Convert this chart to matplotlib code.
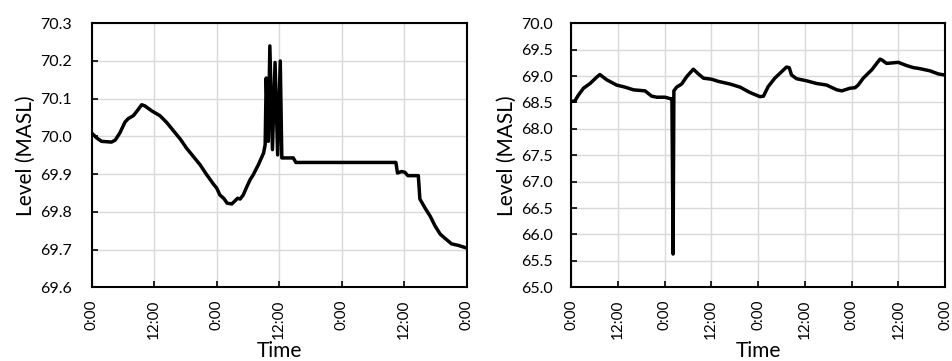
import matplotlib
matplotlib.use("Agg")
import matplotlib.pyplot as plt
import numpy as np

plt.rcParams['font.family'] = ['Lato', 'DejaVu Sans']

# Left panel: hours since start, level (MASL)
left_hours = [0.0, 0.96, 1.9, 3.8, 4.5, 5.4, 6.4, 7.0, 8.0, 8.8, 9.6, 10.2, 11.5, 13.1,
              14.4, 15.7, 17.0, 18.2, 19.5, 20.8, 22.1, 23.4, 24.0, 24.6, 25.4, 26.0,
              26.9, 27.5, 28.0, 28.5, 29.1, 29.8, 30.4, 31.0, 32.0, 33.0, 33.3,
              33.5, 33.9, 34.2, 34.7, 35.2, 35.7, 36.2, 36.5,
              38.7, 39.2, 58.4, 58.7, 59.5, 60.1, 60.7, 62.7, 63.0, 64.0, 65.0,
              65.9, 66.9, 67.8, 69.1, 70.4, 72.0]
left_level = [70.009, 69.996, 69.987, 69.985, 69.990, 70.009, 70.038, 70.047, 70.055,
              70.069, 70.084, 70.081, 70.068, 70.055, 70.037, 70.015, 69.993, 69.969,
              69.947, 69.925, 69.898, 69.873, 69.863, 69.845, 69.835, 69.823, 69.821,
              69.829, 69.836, 69.834, 69.845, 69.867, 69.885, 69.898, 69.925, 69.956,
              69.978, 70.155, 69.987, 70.240, 69.965, 70.196, 69.951, 70.200, 69.943,
              69.943, 69.931, 69.931, 69.903, 69.907, 69.905, 69.896, 69.896, 69.834,
              69.810, 69.788, 69.763, 69.741, 69.730, 69.715, 69.711, 69.704]

# Right panel
right_hours = [0.0, 1.0, 1.9, 3.2, 4.9, 6.6, 7.4, 9.15, 11.7, 13.9, 16.0, 19.0, 20.7,
               22.0, 24.1, 25.6, 25.9, 26.2, 26.4, 27.1, 28.4, 29.7, 31.4, 32.7, 34.0,
               36.1, 37.8, 40.8, 43.4, 45.9, 48.5, 49.4, 50.6, 52.3, 54.0, 55.3, 56.0,
               56.6, 57.9, 60.5, 63.0, 65.6, 68.2, 69.5, 71.6, 72.9, 73.7, 75.0, 77.2,
               79.3, 79.7, 81.0, 84.0, 86.1, 87.9, 89.6, 92.1, 94.3, 96.0]
right_level = [68.52, 68.53, 68.64, 68.77, 68.86, 68.98, 69.03, 68.93, 68.83, 68.79,
               68.74, 68.72, 68.62, 68.60, 68.60, 68.57, 68.57, 65.63, 68.72, 68.79,
               68.85, 68.99, 69.13, 69.04, 68.96, 68.94, 68.90, 68.85, 68.79, 68.69,
               68.61, 68.62, 68.80, 68.96, 69.08, 69.17, 69.16, 69.02, 68.95, 68.91,
               68.86, 68.83, 68.74, 68.72, 68.77, 68.78, 68.83, 68.96, 69.12, 69.32,
               69.31, 69.24, 69.26, 69.20, 69.16, 69.14, 69.10, 69.04, 69.02]

left_yticks = [69.6, 69.7, 69.8, 69.9, 70.0, 70.1, 70.2, 70.3]
right_yticks = [65.0, 65.5, 66.0, 66.5, 67.0, 67.5, 68.0, 68.5, 69.0, 69.5, 70.0]

fig = plt.figure(figsize=(9.52, 3.61), dpi=100)
ax1 = fig.add_axes([0.0963, 0.2042, 0.394, 0.7313])
ax2 = fig.add_axes([0.5998, 0.2042, 0.3929, 0.7313])

def style(ax, hours_total, yticks, fmt, ypad):
    xt = np.arange(0, hours_total + 1, 12)
    ax.set_xlim(0, hours_total)
    ax.set_xticks(xt)
    ax.set_xticklabels(["0:00" if (t % 24 == 0) else "12:00" for t in xt],
                       rotation=90, fontsize=11)
    ax.set_ylim(yticks[0], yticks[-1])
    ax.set_yticks(yticks)
    ax.set_yticklabels([fmt.format(v) for v in yticks], fontsize=11.5)
    ax.grid(True, color='#d9d9d9', linewidth=1.0)
    ax.set_axisbelow(True)
    ax.tick_params(direction='in', length=4, width=1.2, color='black')
    ax.tick_params(axis='y', pad=ypad)
    ax.tick_params(axis='x', pad=9)
    for s in ax.spines.values():
        s.set_linewidth(1.5)
        s.set_color('black')
    ax.set_xlabel("Time", fontsize=15)
    ax.xaxis.set_label_coords(0.5, -0.205)
    ax.set_ylabel("Level (MASL)", fontsize=15, labelpad=3)

ax1.plot(left_hours, left_level, color='black', linewidth=2.5)
style(ax1, 72, left_yticks, "{:.1f}", 14)
ax2.plot(right_hours, right_level, color='black', linewidth=2.5)
style(ax2, 96, right_yticks, "{:.1f}", 13)

fig.savefig("out.png", dpi=100)
